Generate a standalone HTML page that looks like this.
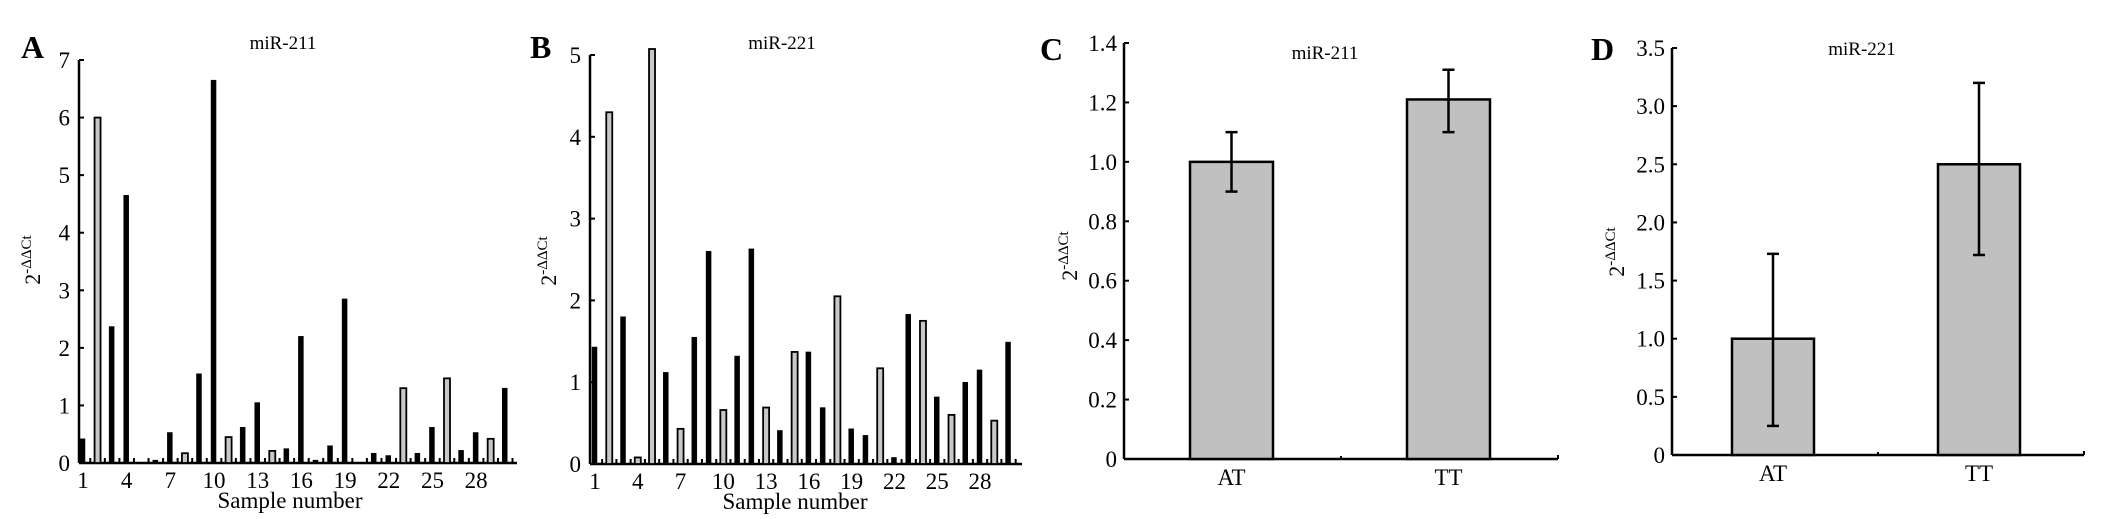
<!DOCTYPE html>
<html><head><meta charset="utf-8"><style>
html,body{margin:0;padding:0;background:#fff;}
svg{display:block;font-family:"Liberation Serif",serif;}
</style></head><body>
<svg id="fig" width="2126" height="519" viewBox="0 0 2126 519"></svg>
<script>
const samplesA = [1,2,3,4,5,6,7,8,9,10,11,12,13,14,15,16,17,18,19,20,21,22,23,24,25,26,27,28,29,30];
const valuesA = [0.42,6.0,2.37,4.65,0,0.05,0.53,0.17,1.55,6.65,0.45,0.62,1.05,0.21,0.25,2.2,0.05,0.3,2.85,0,0.17,0.13,1.3,0.17,0.62,1.47,0.22,0.53,0.42,1.3];
const hollowA = [0,1,0,0,0,0,0,1,0,0,1,0,0,1,0,0,0,0,0,0,0,0,1,0,0,1,0,0,1,0];
const ticksA = [0,1,2,3,4,5,6,7];
const valuesB = [1.43,4.3,1.8,0.08,5.1,1.12,0.43,1.55,2.6,0.66,1.32,2.63,0.69,0.41,1.37,1.37,0.69,2.05,0.43,0.35,1.17,0.08,1.83,1.75,0.82,0.6,1.0,1.15,0.53,1.49];
const hollowB = [0,1,0,1,1,0,1,0,0,1,0,0,1,0,1,0,0,1,0,0,1,0,0,1,0,1,0,0,1,0];
const ticksB = [0,1,2,3,4,5];
const xLabels = [1,4,7,10,13,16,19,22,25,28];
const groups = ["AT","TT"];
const meansC = [1.0,1.21];
const errLowC = [0.9,1.1];
const errHighC = [1.1,1.31];
const ticksC = ["0","0.2","0.4","0.6","0.8","1.0","1.2","1.4"];
const meansD = [1.0,2.5];
const errLowD = [0.25,1.72];
const errHighD = [1.73,3.2];
const ticksD = ["0","0.5","1.0","1.5","2.0","2.5","3.0","3.5"];

const NS="http://www.w3.org/2000/svg";
const svg=document.getElementById('fig');
function mk(tag,attrs,parent,text){const e=document.createElementNS(NS,tag);for(const k in attrs)e.setAttribute(k,attrs[k]);if(text!==undefined)e.textContent=text;(parent||svg).appendChild(e);return e;}
function line(x1,y1,x2,y2,w,p){return mk('line',{x1,y1,x2,y2,stroke:'#000','stroke-width':w||2},p);}

function yTitle(g,x,y){
  const t=mk('text',{transform:`translate(${x},${y}) rotate(-90)`,'text-anchor':'middle','font-size':22},g);
  
  
  mk('tspan',{},t,'2');
  mk('tspan',{'font-size':15,dy:-9},t,'-ΔΔCt');
}
function panelLetter(x,y,l){
  const t=mk('text',{x,y,'font-size':32,'font-weight':'bold'},svg,l);
  
  
}
function title(x,y,s,g){
  const t=mk('text',{x,y,'text-anchor':'middle','font-size':19},g,s);
  
  
}

function samplePanel(cfg,vals,hollow,ticks){
  const g=mk('g',{});
  
  
  const ymax=ticks[ticks.length-1];
  const ys=v=>cfg.y0-(v/ymax)*(cfg.y0-cfg.yTop);
  const xs=i=>cfg.x1+(i-1)*cfg.dx;
  line(cfg.ax,cfg.yTop,cfg.ax,cfg.y0,2.5,g);
  line(cfg.ax,cfg.y0,cfg.axEnd,cfg.y0,2.5,g);
  ticks.forEach(t=>{
    line(cfg.ax,ys(t),cfg.ax+5,ys(t),2,g);
    const tl=mk('text',{x:cfg.ax-9,y:ys(t)+8,'text-anchor':'end','font-size':23},g,String(t));
    
    
  });
  for(let i=1;i<=vals.length;i++){
    line(xs(i)+cfg.dx/2,cfg.y0,xs(i)+cfg.dx/2,cfg.y0-5,2,g);
  }
  vals.forEach((v,k)=>{
    const i=k+1; if(v<=0) return;
    const top=Math.max(ys(v),cfg.yTop-6);
    const r=mk('rect',{x:xs(i)-3,y:top,width:hollow[k]?6:5,height:cfg.y0-top,
      fill:hollow[k]?'#c8c8c8':'#000',stroke:'#000','stroke-width':hollow[k]?1.8:0.5},g);
    
    
  });
  xLabels.forEach(n=>{
    const tl=mk('text',{x:xs(n),y:cfg.y0+25,'text-anchor':'middle','font-size':23},g,String(n));
    
    
  });
  const xt=mk('text',{x:cfg.xTitleX,y:cfg.y0+45,'text-anchor':'middle','font-size':23},g,'Sample number');
  
  
  yTitle(g,cfg.yTitleX,cfg.y0-203);
  title(cfg.titleX,cfg.titleY,cfg.title,g);
}

function groupPanel(cfg,means,lo,hi,ticks){
  const g=mk('g',{});
  
  
  const ymax=parseFloat(ticks[ticks.length-1]);
  const ys=v=>cfg.y0-(v/ymax)*(cfg.y0-cfg.yTop);
  line(cfg.ax,cfg.yTop,cfg.ax,cfg.y0,2.5,g);
  line(cfg.ax,cfg.y0,cfg.axEnd,cfg.y0,2.5,g);
  line(cfg.axEnd,cfg.y0,cfg.axEnd,cfg.y0-4,2,g);
  line((cfg.ax+cfg.axEnd)/2,cfg.y0,(cfg.ax+cfg.axEnd)/2,cfg.y0-3,2,g);
  ticks.forEach(t=>{
    const y=ys(parseFloat(t));
    line(cfg.ax,y,cfg.ax+5,y,2,g);
    const tl=mk('text',{x:cfg.ax-7,y:y+8,'text-anchor':'end','font-size':23},g,t);
    
    
  });
  means.forEach((m,k)=>{
    const x0=cfg.barX[k], w=cfg.barW, cx=x0+w/2;
    const r=mk('rect',{x:x0,y:ys(m),width:w,height:cfg.y0-ys(m),fill:'#c0c0c0',stroke:'#000','stroke-width':2.5},g);
    
    
    const eg=mk('g',{},g);
    
    
    line(cx,ys(lo[k]),cx,ys(hi[k]),2.5,eg);
    line(cx-6,ys(lo[k]),cx+6,ys(lo[k]),2.5,eg);
    line(cx-6,ys(hi[k]),cx+6,ys(hi[k]),2.5,eg);
    const tl=mk('text',{x:cx,y:cfg.y0+26,'text-anchor':'middle','font-size':23},g,groups[k]);
    
    
  });
  yTitle(g,cfg.yTitleX,cfg.y0-203);
  title(cfg.titleX,cfg.titleY,cfg.title,g);
}

panelLetter(21,58,'A');
panelLetter(530,58,'B');
panelLetter(1040,60,'C');
panelLetter(1591,60,'D');

samplePanel({name:'panel-a-chart',ax:79,yTop:60,y0:463,axEnd:517,x1:83,dx:14.56,xTitleX:290,titleX:283,titleY:49,title:'miR-211',yTitleX:40},valuesA,hollowA,ticksA);
samplePanel({name:'panel-b-chart',ax:590,yTop:55,y0:464,axEnd:1022,x1:595,dx:14.26,xTitleX:795,titleX:782,titleY:49,title:'miR-221',yTitleX:556},valuesB,hollowB,ticksB);
groupPanel({name:'panel-c-chart',ax:1124,yTop:43,y0:459,axEnd:1558,barX:[1190,1407],barW:83,titleX:1325,titleY:59,title:'miR-211',yTitleX:1077},meansC,errLowC,errHighC,ticksC);
groupPanel({name:'panel-d-chart',ax:1672,yTop:48,y0:455,axEnd:2084,barX:[1732,1938],barW:82,titleX:1862,titleY:55,title:'miR-221',yTitleX:1624},meansD,errLowD,errHighD,ticksD);
</script>
</body></html>
